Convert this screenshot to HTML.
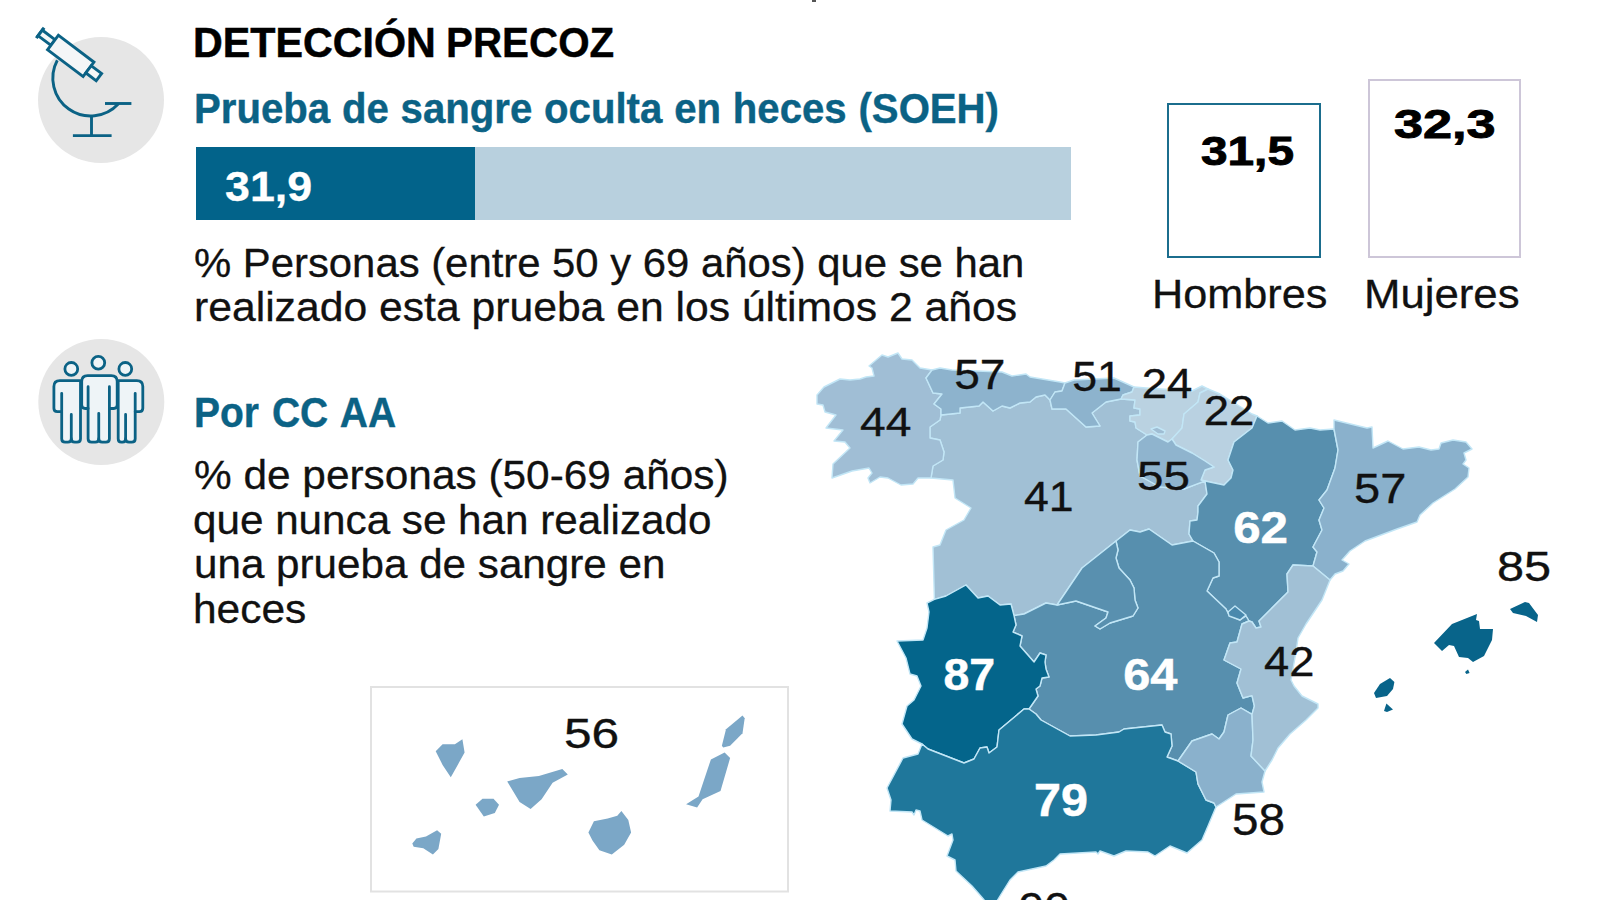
<!DOCTYPE html>
<html lang="es">
<head>
<meta charset="utf-8">
<title>Detección precoz</title>
<style>
html,body{margin:0;padding:0;background:#fff;}
body{width:1599px;height:900px;position:relative;overflow:hidden;font-family:"Liberation Sans",Arial,sans-serif;color:#111;}
.abs{position:absolute;white-space:nowrap;line-height:1;}
svg.map{position:absolute;left:0;top:0;}
svg.icons{position:absolute;left:0;top:0;}
.t{transform-origin:0 0;}
.grp{position:absolute;left:0;top:0;margin:0;font-size:0;font-weight:400;}
.bar{position:absolute;left:196px;top:147px;width:875px;height:72.700px;background:#b8d0de;}
.bar i{position:absolute;left:0;top:0;height:100%;width:279px;background:#02638a;}
.box{position:absolute;box-sizing:border-box;border:2px solid #1b6d8d;background:#fff;}
.tick{position:absolute;left:812px;top:0;width:4px;height:2px;background:#555;}
</style>
</head>
<body>
<div class="tick"></div>
<svg class="icons" width="200" height="480" viewBox="0 0 200 480">
<circle cx="101" cy="100" r="63" fill="#e6e6e6"/>
<circle cx="101.300" cy="402" r="63" fill="#e6e6e6"/>
<g fill="none" stroke="#0b6285" stroke-width="2.9" stroke-linejoin="miter">
<g transform="translate(40.2 32.9) rotate(37)">
<line x1="0" y1="-6.500" x2="0" y2="6.500" stroke-width="3.2"/>
<rect x="0" y="-3.500" width="16" height="7" fill="#f4f6f7"/>
<rect x="16" y="-9" width="44.500" height="18" fill="#f4f6f7"/>
<rect x="60.500" y="-4.500" width="13" height="9" fill="#f4f6f7"/>
</g>
<path d="M57.300,60.300 A37.850,37.850 0 0 0 118.500,103.800"/>
<path d="M105,103.500 H131.400"/>
<path d="M91.500,116.200 V135.600"/>
<path d="M72.900,135.600 H111.600"/>
</g>
<g fill="#eef4f7" stroke="#0b6285" stroke-width="2.800" stroke-linecap="round" stroke-linejoin="round">
<circle cx="71.300" cy="368.900" r="6.400"/>
<circle cx="125.300" cy="368.900" r="6.400"/>
<!-- left -->
<path d="M53.900,408.200 V386.600 Q53.900,380.600 59.900,380.600 H80.500 V438.700 Q80.500,442.200 77,442.200 H74.800 Q71.300,442.200 71.300,438.700 Q71.300,442.200 67.800,442.200 H65.200 Q61.700,442.200 61.700,438.700 V411.700 H57.400 Q53.900,411.700 53.900,408.200 Z"/>
<path d="M61.700,393.300 V411.700 M71.300,414.400 V438.700" fill="none"/>
<!-- right -->
<path d="M142.800,408.200 V386.600 Q142.800,380.600 136.800,380.600 H118.200 V438.700 Q118.200,442.200 121.300,442.200 H122.500 Q125.600,442.200 125.600,438.700 Q125.600,442.200 129.100,442.200 H131.700 Q135.200,442.200 135.200,438.700 V411.700 H139.300 Q142.800,411.700 142.800,408.200 Z"/>
<path d="M135.200,393.300 V411.700 M125.600,414.400 V438.700" fill="none"/>
<!-- middle -->
<circle cx="98.300" cy="362.800" r="6.400"/>
<path d="M81.700,405 V381.600 Q81.700,375.600 87.700,375.600 H111.200 Q117.200,375.600 117.200,381.600 V405 Q117.200,408.500 113.700,408.500 H109.400 V438.700 Q109.400,442.200 105.900,442.200 H102.250 Q98.750,442.200 98.750,438.700 Q98.750,442.200 95.250,442.200 H91.600 Q88.100,442.200 88.100,438.700 V408.500 H85.200 Q81.700,408.500 81.700,405 Z"/>
<path d="M88.100,386.700 V408.500 M109.400,386.700 V408.500 M98.750,413.300 V438.700" fill="none"/>
</g>
</svg>

<div class="bar"><i></i></div>
<div class="box" style="left:1167px;top:103px;width:154px;height:155px;"></div>
<div class="box" style="left:1368px;top:79px;width:153px;height:179px;border-color:#cdc6d8;"></div>
<h1 class="grp"><span class="abs t" id="t1" style="left:193.22px;top:20.93px;font-size:42.6px;color:#000;transform:scaleX(0.9679);font-weight:700;-webkit-text-stroke:0.5px #000;">DETECCIÓN</span> <span class="abs t" id="t1b" style="left:445.58px;top:20.93px;font-size:42.6px;color:#000;transform:scaleX(0.9476);font-weight:700;-webkit-text-stroke:0.4px #000;">PRECOZ</span></h1>
<div class="abs t" id="t2" style="left:193.59px;top:88.39px;font-size:41.7px;color:#0b6285;transform:scaleX(0.9628);font-weight:700;-webkit-text-stroke:0.4px #0b6285;word-spacing:0.73px;">Prueba de sangre oculta en heces (SOEH)</div>
<div class="abs t" id="t3" style="left:225.09px;top:164.59px;font-size:43px;color:#fff;transform:scaleX(1.0411);font-weight:700;-webkit-text-stroke:0.3px #fff;">31,9</div>
<div class="abs t" id="t4" style="left:193.54px;top:243.19px;font-size:40.4px;color:#111;transform:scaleX(1.0358);-webkit-text-stroke:0.3px #111;">% Personas (entre 50 y 69 años) que se han</div>
<div class="abs t" id="t5" style="left:193.93px;top:287.49px;font-size:40.4px;color:#111;transform:scaleX(1.0563);-webkit-text-stroke:0.3px #111;">realizado esta prueba en los últimos 2 años</div>
<div class="abs t" id="t6" style="left:1200.63px;top:130.51px;font-size:40.5px;color:#000;transform:scaleX(1.1792);font-weight:700;-webkit-text-stroke:0.9px #000;">31,5</div>
<div class="abs t" id="t7" style="left:1394.42px;top:104.11px;font-size:40.5px;color:#000;transform:scaleX(1.2898);font-weight:700;-webkit-text-stroke:0.9px #000;">32,3</div>
<div class="abs t" id="t8" style="left:1151.73px;top:273.89px;font-size:40.4px;color:#111;transform:scaleX(1.0699);-webkit-text-stroke:0.3px #111;">Hombres</div>
<div class="abs t" id="t9" style="left:1364.19px;top:273.89px;font-size:40.4px;color:#111;transform:scaleX(1.0829);-webkit-text-stroke:0.3px #111;">Mujeres</div>
<div class="abs t" id="t10" style="left:193.57px;top:391.61px;font-size:41.8px;color:#0b6285;transform:scaleX(0.9328);font-weight:700;-webkit-text-stroke:0.4px #0b6285;word-spacing:2.27px;">Por CC AA</div>
<div class="abs t" id="t11" style="left:193.72px;top:455.29px;font-size:40.4px;color:#111;transform:scaleX(1.0490);-webkit-text-stroke:0.3px #111;">% de personas (50-69 años)</div>
<div class="abs t" id="t12" style="left:193.41px;top:499.89px;font-size:40.4px;color:#111;transform:scaleX(1.0447);-webkit-text-stroke:0.3px #111;">que nunca se han realizado</div>
<div class="abs t" id="t13" style="left:193.56px;top:544.49px;font-size:40.4px;color:#111;transform:scaleX(1.0443);-webkit-text-stroke:0.3px #111;">una prueba de sangre en</div>
<div class="abs t" id="t14" style="left:193.33px;top:589.09px;font-size:40.4px;color:#111;transform:scaleX(1.0510);-webkit-text-stroke:0.3px #111;">heces</div>
<svg class="map" width="1599" height="900" viewBox="0 0 1599 900" font-family="'Liberation Sans', Arial, sans-serif">
<rect x="371" y="687" width="417" height="204.500" fill="#fff" stroke="#e2e2e2" stroke-width="2"/>
<g stroke="#c2e6f6" stroke-width="1.4" stroke-linejoin="round">
<polygon fill="#a1c0d5" points="941,415 940,420 930,427 930,438 940,440 944,452 943,460 933,466 931,478 953,480 955,498 971,508 964,520 946,530 940,545 933,547 934.4,599.4 946,596 966,585 978,598 988,596 1000,605 1011,604 1014,615.6 1024,614 1046,603 1057,605 1082,568 1116,541 1130,530 1140,532 1149,529 1172,545 1193,541 1189,534 1190,521 1197,520 1198,512 1198,506 1207,494 1205,481 1196,484.4 1184,489 1160,487 1140,476 1137,460 1138,442 1147,435 1136,428 1135,422 1130,421 1130,416 1140,415 1140,409 1134,408 1135,400 1121,399 1106,402 1092,413 1100,426 1086,427 1066,409 1052,409 1050,400 1045,395 1036,397 1030,402 1020,403 1010,408 1002,406 993,411 983,402 979,406 960,408 960,413 941,415"/>
<polygon fill="#a0bed5" points="931,478 918,478 913,484 901,485 888,478 880,477 870,483 868,478 872,473 869,468 852,471 832,478 833,464 850,448 845,442 834,441 843,430 826,428 836,415 825,412 823,405 817,404 817,395 824,387 840,379 850,380 860,379 866,377 874,376 872,368 869,366 882,355 888,357 898,353 902,359 912,360 920,368 932,370 926,378 933,393 942,394 934,404 941,409 941,415 940,420 930,427 930,438 940,440 944,452 943,460 933,466 931,478"/>
<polygon fill="#8db3cd" points="932,370 940,368 952,370 1002,372 1012,376 1026,374 1030,377 1060,382 1065,383 1062,391 1055,392 1050,400 1045,395 1036,397 1030,402 1020,403 1010,408 1002,406 993,411 983,402 979,406 960,408 960,413 941,415 941,409 934,404 942,394 933,393 926,378 932,370"/>
<polygon fill="#8db3cd" points="1065,383 1074,380 1114,378 1134,387 1132,392 1123,395 1121,399 1106,402 1092,413 1100,426 1086,427 1066,409 1052,409 1050,400 1055,392 1062,391 1065,383"/>
<polygon fill="#bad2e1" points="1134,387 1146,388 1192,391 1202,386 1208,389 1200,393 1198,402 1184,414 1182,428 1172,439 1168,442 1152,434 1147,435 1136,428 1135,422 1130,421 1130,416 1140,415 1140,409 1134,408 1135,400 1121,399 1123,395 1132,392 1134,387"/>
<polygon fill="#b9d1e1" points="1208,389 1220,394 1252,414 1257,416 1252,428 1234,442 1228,460 1233,470 1231,478 1224,485 1205,481 1201,480 1205,470 1214,467 1205,461 1192,453 1176,445 1172,439 1182,428 1184,414 1198,402 1200,393 1208,389"/>
<polygon fill="#8fb4ce" points="1147,435 1152,434 1168,442 1172,439 1176,445 1192,453 1205,461 1214,467 1205,470 1201,480 1205,481 1196,484.4 1184,489 1160,487 1140,476 1137,460 1138,442 1147,435"/>
<polygon fill="#578fae" points="1257,416 1268,423 1282,421 1295,430 1310,428 1320,430 1334,429 1338,450 1335,468 1327,490 1319,500 1324,508 1319,520 1322,530 1313,547 1317,552 1313,566 1293,565 1287,574 1288,592 1259,621 1261,627 1256,628 1252,622 1249,621 1246,616 1240,620 1229,615 1226,609 1207,591 1213,578 1219,576 1219,562 1214,553 1193,541 1189,534 1190,521 1197,520 1198,512 1198,506 1207,494 1205,481 1224,485 1231,478 1233,470 1228,460 1234,442 1252,428 1257,416"/>
<polygon fill="#8ab1cc" points="1334,429 1334,420 1367,428 1372,427 1373,448 1388,441 1403,449 1419,447 1431,450 1439,449 1441,443 1453,440 1466,442 1472,449 1464,453 1466,460 1463,464 1469,468 1468,477 1455,489 1433,503 1420,515 1417,522 1397,529 1365,541 1350,551 1342,560 1349,564 1343,571 1335,574 1330,580 1313,566 1317,552 1313,547 1322,530 1319,520 1324,508 1319,500 1327,490 1335,468 1338,450 1334,429"/>
<polygon fill="#578fae" points="1193,541 1172,545 1149,529 1140,532 1130,530 1116,541 1118,550 1116,558 1119,568 1130,580 1134,588 1135,600 1138,608 1133,616 1110,623 1100,629 1095,626 1106,618 1108,612 1076,601 1057,605 1046,603 1024,614 1014,615.6 1016,625 1013,632 1022,636 1020,646 1034,662 1040,653 1046,655 1045,662 1046,669 1049,677 1042,678 1040,686 1036,689 1038,696 1029,709 1036,714 1041,720 1070,736 1096,735 1119,732 1124,729 1162,725 1165,732 1171,734 1172,746 1167,757 1178,761 1192,741 1212,734 1219,739 1224,732 1228,715 1241,708 1252,714.4 1254.4,706 1252,695.6 1243,698 1237,683 1241,669 1224,660 1230,643 1237,642 1242,624 1249,621 1246,616 1240,620 1229,615 1226,609 1207,591 1213,578 1219,576 1219,562 1214,553 1193,541"/>
<polygon fill="#5990af" points="1116,541 1082,568 1057,605 1076,601 1108,612 1106,618 1095,626 1100,629 1110,623 1133,616 1138,608 1135,600 1134,588 1130,580 1119,568 1116,558 1118,550 1116,541"/>
<polygon fill="#04658b" points="934.4,599.4 927,603 929,612 927,628 923,640 897,641 906,658 910,674 917,676 921,686 914,700 907,706 902,724 912,739 922,744 928,749 964,763 974,759 980,748 987,747 989,753 997,747 999,730 1024,709 1029,709 1038,696 1036,689 1040,686 1042,678 1049,677 1046,669 1045,662 1046,655 1040,653 1034,662 1020,646 1022,636 1013,632 1016,625 1014,615.6 1011,604 1000,605 988,596 978,598 966,585 946,596 934.4,599.4"/>
<polygon fill="#1f779b" points="922,744 918,754 903,758 887,788 891,800 890,811 912,812 914,815 916,810 920,811 922,820 948,836 952,834 953,840 947,856 955,860 956,871 972,886 984,899.8 988,906 994,906 1000,896 1010,880 1018,872 1046,866 1054,860 1060,854 1096,852 1098,854 1100,851 1114,856 1126,851 1148,852 1155,856 1170,846 1187,853 1202,840 1208,826 1216,807 1214,803 1206,800 1198,784 1196,772 1178,761 1167,757 1172,746 1171,734 1165,732 1162,725 1124,729 1119,732 1096,735 1070,736 1041,720 1036,714 1029,709 1024,709 999,730 997,747 989,753 987,747 980,748 974,759 964,763 928,749 922,744"/>
<polygon fill="#8ab1cc" points="1216,807 1236,794 1264,792 1262,782 1265,771 1251,756 1253,740 1252,714.4 1241,708 1228,715 1224,732 1219,739 1212,734 1192,741 1178,761 1196,772 1198,784 1206,800 1214,803 1216,807"/>
<polygon fill="#a1c0d5" points="1330,580 1322,600 1306,624 1298,638 1296,652 1291,680 1294,686 1302,696 1318,704 1318,708 1306,720 1290,734 1278,748 1272,760 1265,771 1251,756 1253,740 1252,714.4 1254.4,706 1252,695.6 1243,698 1237,683 1241,669 1224,660 1230,643 1237,642 1242,624 1249,621 1252,622 1256,628 1261,627 1259,621 1288,592 1287,574 1293,565 1313,566 1330,580"/>
<polygon fill="#4a89ad" points="1228,612 1235,606 1246,615 1240,620 1229,616"/>
<polygon fill="#9fbdd3" points="1151,429 1157,427 1165,431 1164,434 1158,434"/>
</g>
<g>
<polygon fill="#08648a" points="1434,643 1452,624 1477,614 1476,620 1479,621 1480,629 1493,629 1492,640 1484,656 1473,662 1468,658 1459,657 1454,646 1449,645 1442,651"/>
<polygon fill="#08648a" points="1465,672 1468,669.6 1469.6,673 1466.4,674"/>
<polygon fill="#08648a" points="1510,609 1525,602 1529,603 1538,615 1537,622 1526,616 1513,613"/>
<polygon fill="#08648a" points="1374,693 1380,684 1390,678 1394.4,682 1393,689 1387,696 1376,698"/>
<polygon fill="#08648a" points="1384,711 1386.4,703.6 1393,709.6 1387,712"/>
<polygon fill="#7ba7c7" points="435.7,751.2 442.6,744.3 454.9,744.3 462.4,739.3 464.6,752.6 457.7,764.9 450.8,777.3 442.6,764.9"/>
<polygon fill="#7ba7c7" points="507.2,781.4 519.6,777.9 538.9,775.9 562.3,769.1 567.8,774.6 552.6,782.8 541.6,799.3 530.6,809 519.6,802.1"/>
<polygon fill="#7ba7c7" points="475.6,804.8 482.5,798.8 493.5,798.8 499,804.8 494.8,813.1 483.8,816.4"/>
<polygon fill="#7ba7c7" points="412.3,843.4 416.4,838.4 426,836.5 437.1,830.2 441.2,833.7 438.4,848.9 432.9,854.4 423.3,848.3 413.7,846.7"/>
<polygon fill="#7ba7c7" points="588.4,832.4 593.9,821.3 607.7,818.6 617.3,815.8 621.4,810.9 628.3,820 631.1,832.4 624.2,844.7 611.8,854.4 599.4,850.2 592.5,840.6"/>
<polygon fill="#7ba7c7" points="686.1,804.3 698.5,796.6 704,780.1 710.9,759.4 724.6,752.6 730.1,758.1 720.5,791.1 702.6,799.3 697.1,807.6"/>
<polygon fill="#7ba7c7" points="721.9,745.7 726,729.2 742.5,715.4 744.7,718.2 742.5,733.3 730.1,745.7 723.2,747.6"/>
</g>
<g>
<text transform="translate(954.16 389.00) scale(1.074 1)" font-size="42.91" stroke="#111" stroke-width="0.35" fill="#111">57</text>
<text transform="translate(859.96 436.00) scale(1.115 1)" font-size="41.45" stroke="#111" stroke-width="0.35" fill="#111">44</text>
<text transform="translate(1072.21 391.00) scale(1.040 1)" font-size="42.91" stroke="#111" stroke-width="0.35" fill="#111">51</text>
<text transform="translate(1024.00 511.00) scale(1.040 1)" font-size="42.91" stroke="#111" stroke-width="0.35" fill="#111">41</text>
<text transform="translate(1141.72 398.00) scale(1.076 1)" font-size="42.29" stroke="#111" stroke-width="0.35" fill="#111">24</text>
<text transform="translate(1203.72 425.00) scale(1.077 1)" font-size="42.29" stroke="#111" stroke-width="0.35" fill="#111">22</text>
<text transform="translate(1137.10 490.00) scale(1.148 1)" font-size="41.45" stroke="#111" stroke-width="0.35" fill="#111">55</text>
<text transform="translate(1354.12 503.00) scale(1.097 1)" font-size="42.91" stroke="#111" stroke-width="0.35" fill="#111">57</text>
<text transform="translate(1233.15 542.70) scale(1.120 1)" font-size="44.01" font-weight="700" stroke="#fff" stroke-width="0.5" fill="#fff">62</text>
<text transform="translate(943.49 689.70) scale(1.054 1)" font-size="44.01" font-weight="700" stroke="#fff" stroke-width="0.5" fill="#fff">87</text>
<text transform="translate(1123.17 689.70) scale(1.107 1)" font-size="44.01" font-weight="700" stroke="#fff" stroke-width="0.5" fill="#fff">64</text>
<text transform="translate(1033.94 815.70) scale(1.066 1)" font-size="45.45" font-weight="700" stroke="#fff" stroke-width="0.5" fill="#fff">79</text>
<text transform="translate(1263.98 676.00) scale(1.071 1)" font-size="42.29" stroke="#111" stroke-width="0.35" fill="#111">42</text>
<text transform="translate(1232.09 835.00) scale(1.091 1)" font-size="43.73" stroke="#111" stroke-width="0.35" fill="#111">58</text>
<text transform="translate(1496.93 581.00) scale(1.151 1)" font-size="42.29" stroke="#111" stroke-width="0.35" fill="#111">85</text>
<text transform="translate(564.01 748.00) scale(1.194 1)" font-size="41.58" stroke="#111" stroke-width="0.35" fill="#111">56</text>
<text transform="translate(1018.82 922.40) scale(1.084 1)" font-size="42.29" stroke="#111" stroke-width="0.35" fill="#111">90</text>
</g>
</svg>
</body>
</html>
